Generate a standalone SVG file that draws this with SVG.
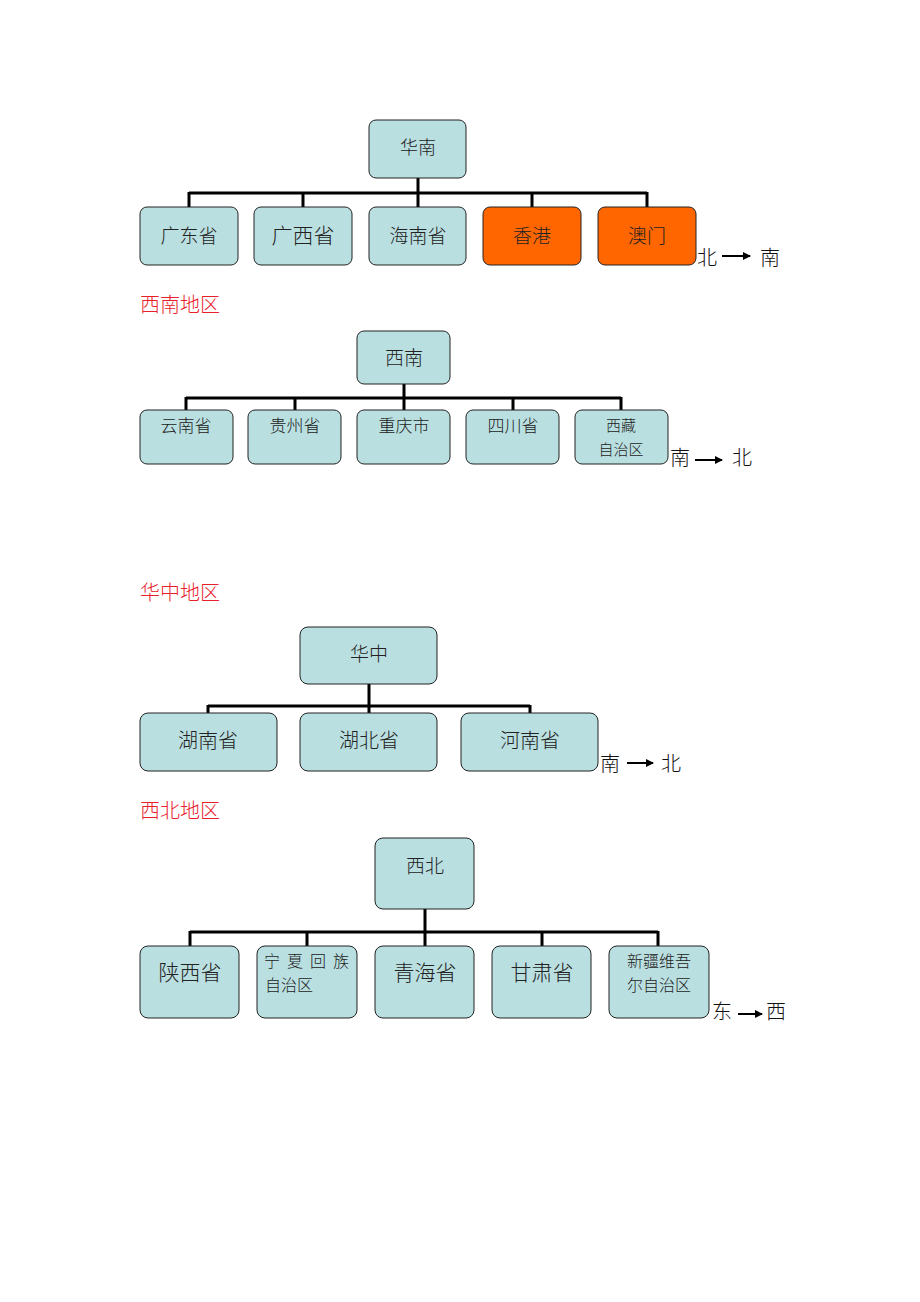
<svg xmlns="http://www.w3.org/2000/svg" width="920" height="1302" viewBox="0 0 920 1302">
<style>
.n{fill:#badfe0;stroke:#222;stroke-width:1}
.o{fill:#ff6600;stroke:#222;stroke-width:1}
.t{font-family:"Noto Sans CJK SC","Noto Sans",sans-serif;font-weight:300;fill:#222;text-anchor:middle;dominant-baseline:central}
.h{font-family:"Noto Sans CJK SC",sans-serif;font-weight:300;fill:#e8202a;font-size:20px}
.a{font-family:"Noto Sans CJK SC",sans-serif;font-weight:300;fill:#111;font-size:20px}
.c{stroke:#000;stroke-width:3;fill:none}
.ar{stroke:#000;stroke-width:2;fill:none}
</style>
<defs>
<marker id="ah" markerWidth="8" markerHeight="8" refX="7" refY="4" orient="auto" markerUnits="userSpaceOnUse">
<path d="M0,0 L8,4 L0,8 z" fill="#000"/>
</marker>
</defs>
<rect width="920" height="1302" fill="#fff"/>
<g id="connectors">
<path class="c" d="M418,178 V193 M189,193 H647 M189,192 V207 M303,192 V207 M418,192 V207 M532,192 V207 M647,192 V207"/>
<path class="c" d="M404,384 V398 M186,398 H621 M186,397 V410 M295,397 V410 M404,397 V410 M513,397 V410 M621,397 V410"/>
<path class="c" d="M369,684 V706 M208,706 H530 M208,705 V713 M369,705 V713 M530,705 V713"/>
<path class="c" d="M425,909 V932 M190,932 H658 M190,931 V946 M307,931 V946 M425,931 V946 M542,931 V946 M658,931 V946"/>
<line class="ar" x1="722" y1="256" x2="750" y2="256" marker-end="url(#ah)"/>
<line class="ar" x1="695" y1="460" x2="722" y2="460" marker-end="url(#ah)"/>
<line class="ar" x1="627" y1="763" x2="653" y2="763" marker-end="url(#ah)"/>
<line class="ar" x1="738" y1="1014" x2="762" y2="1014" marker-end="url(#ah)"/>
</g>
<g id="sec1">
<g id="huanan"><rect class="n" x="369" y="120" width="97" height="58" rx="7"/><text class="t" x="418" y="146" font-size="18">华南</text></g>
<g id="guangdong"><rect class="n" x="140" y="207" width="98" height="58" rx="7"/><text class="t" x="189" y="234" font-size="19">广东省</text></g>
<g id="guangxi"><rect class="n" x="254" y="207" width="98" height="58" rx="7"/><text class="t" x="303" y="234" font-size="21">广西省</text></g>
<g id="hainan"><rect class="n" x="369" y="207" width="97" height="58" rx="7"/><text class="t" x="418" y="234" font-size="19">海南省</text></g>
<g id="xianggang"><rect class="o" x="483" y="207" width="98" height="58" rx="7"/><text class="t" x="532" y="234" font-size="19">香港</text></g>
<g id="aomen"><rect class="o" x="598" y="207" width="98" height="58" rx="7"/><text class="t" x="647" y="234" font-size="19">澳门</text></g>
<text class="a" x="697" y="265">北</text><text class="a" x="760" y="265">南</text>
</g>
<g id="sec2">
<text class="h" x="140" y="312">西南地区</text>
<g id="xinan"><rect class="n" x="357" y="331" width="93" height="53" rx="7"/><text class="t" x="404" y="356" font-size="19">西南</text></g>
<g id="yunnan"><rect class="n" x="140" y="410" width="93" height="54" rx="7"/><text class="t" x="186" y="424" font-size="17">云南省</text></g>
<g id="guizhou"><rect class="n" x="248" y="410" width="93" height="54" rx="7"/><text class="t" x="295" y="424" font-size="17">贵州省</text></g>
<g id="chongqing"><rect class="n" x="357" y="410" width="93" height="54" rx="7"/><text class="t" x="404" y="424" font-size="17">重庆市</text></g>
<g id="sichuan"><rect class="n" x="466" y="410" width="93" height="54" rx="7"/><text class="t" x="513" y="424" font-size="17">四川省</text></g>
<g id="xizang"><rect class="n" x="575" y="410" width="93" height="54" rx="7"/><text class="t" x="621" y="424" font-size="15">西藏</text><text class="t" x="621" y="448" font-size="15">自治区</text></g>
<text class="a" x="670" y="465">南</text><text class="a" x="732" y="465">北</text>
</g>
<g id="sec3">
<text class="h" x="140" y="600">华中地区</text>
<g id="huazhong"><rect class="n" x="300" y="627" width="137" height="57" rx="8"/><text class="t" x="369" y="652" font-size="19">华中</text></g>
<g id="hunan"><rect class="n" x="140" y="713" width="137" height="58" rx="8"/><text class="t" x="208" y="739" font-size="20">湖南省</text></g>
<g id="hubei"><rect class="n" x="300" y="713" width="137" height="58" rx="8"/><text class="t" x="369" y="739" font-size="20">湖北省</text></g>
<g id="henan"><rect class="n" x="461" y="713" width="137" height="58" rx="8"/><text class="t" x="530" y="739" font-size="20">河南省</text></g>
<text class="a" x="600" y="771">南</text><text class="a" x="661" y="771">北</text>
</g>
<g id="sec4">
<text class="h" x="140" y="818">西北地区</text>
<g id="xibei"><rect class="n" x="375" y="838" width="99" height="71" rx="8"/><text class="t" x="425" y="864" font-size="19">西北</text></g>
<g id="shaanxi"><rect class="n" x="140" y="946" width="99" height="72" rx="8"/><text class="t" x="190" y="971" font-size="21">陕西省</text></g>
<g id="ningxia"><rect class="n" x="257" y="946" width="100" height="72" rx="8"/><text class="t" x="310" y="960" font-size="16" fill="#444" letter-spacing="7">宁夏回族</text><text class="t" x="289" y="984" font-size="16" fill="#444">自治区</text></g>
<g id="qinghai"><rect class="n" x="375" y="946" width="99" height="72" rx="8"/><text class="t" x="425" y="971" font-size="21">青海省</text></g>
<g id="gansu"><rect class="n" x="492" y="946" width="99" height="72" rx="8"/><text class="t" x="542" y="971" font-size="21">甘肃省</text></g>
<g id="xinjiang"><rect class="n" x="609" y="946" width="100" height="72" rx="8"/><text class="t" x="659" y="960" font-size="16">新疆维吾</text><text class="t" x="659" y="984" font-size="16">尔自治区</text></g>
<text class="a" x="712" y="1019">东</text><text class="a" x="766" y="1019">西</text>
</g>
</svg>
